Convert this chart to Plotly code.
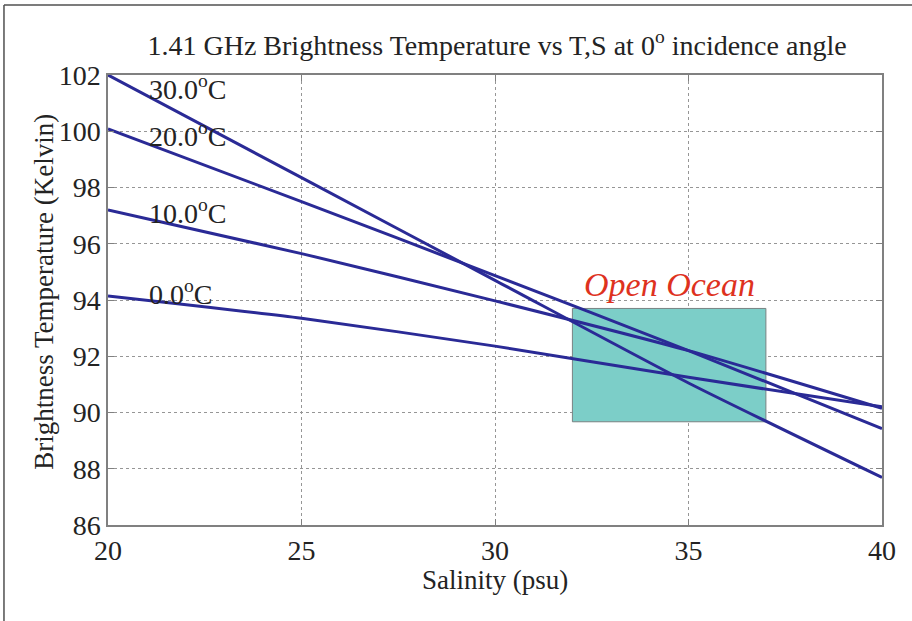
import plotly.graph_objects as go

salinity = [20, 25, 30, 35, 40]
tb_30 = [102.0, 98.35, 94.70, 91.05, 87.69]
tb_20 = [100.08, 97.5, 94.87, 92.2, 89.43]
tb_10 = [97.2, 95.65, 93.97, 92.2, 90.15]
tb_0 = [94.14, 93.35, 92.36, 91.25, 90.2]
series = [("30.0", tb_30), ("20.0", tb_20), ("10.0", tb_10), ("0.0", tb_0)]

label_x = [21.0, 21.0, 21.0, 21.0]
label_y = [101.57, 99.9, 97.13, 94.25]

box_s = [32.0, 37.0]
box_t = [89.67, 93.7]

xticks = [20, 25, 30, 35, 40]
yticks = [86, 88, 90, 92, 94, 96, 98, 100, 102]

FONT = "Liberation Serif"
LINE = "rgb(42,42,150)"
TXT = "rgb(35,35,35)"
FS = 28

fig = go.Figure()

# open-ocean box
fig.add_trace(go.Scatter(
    x=[box_s[0], box_s[1], box_s[1], box_s[0], box_s[0]],
    y=[box_t[0], box_t[0], box_t[1], box_t[1], box_t[0]],
    mode="lines", fill="toself", fillcolor="rgb(124,206,200)",
    line=dict(color="rgb(120,130,130)", width=1), hoverinfo="skip", showlegend=False))

for name, vals in series:
    fig.add_trace(go.Scatter(x=salinity, y=vals, mode="lines", name=name + " C",
                             line=dict(color=LINE, width=3, shape="spline", smoothing=0.6),
                             showlegend=False))

for (name, _), lx, ly in zip(series, label_x, label_y):
    fig.add_annotation(x=lx, y=ly, xref="x", yref="y", xanchor="left", yanchor="middle",
                       text=name + "<sup>o</sup>C", showarrow=False,
                       font=dict(family=FONT, size=FS, color=TXT))

fig.add_annotation(x=34.52, y=94.55, xref="x", yref="y", text="<i>Open Ocean</i>",
                   showarrow=False, font=dict(family=FONT, size=34, color="rgb(222,50,30)"))

# axis titles
fig.add_annotation(x=-0.0828, y=0.518, xref="paper", yref="paper", xanchor="center", yanchor="middle",
                   text="Brightness Temperature (Kelvin)", textangle=-90, showarrow=False,
                   font=dict(family=FONT, size=27, color=TXT))
fig.add_annotation(x=0.5, y=-0.122, xref="paper", yref="paper", xanchor="center", yanchor="middle",
                   text="Salinity (psu)", showarrow=False,
                   font=dict(family=FONT, size=27, color=TXT))

# outer frame (left and top edges)
fig.add_shape(type="line", xref="paper", yref="paper", x0=-0.1344, x1=-0.1344, y0=1.1556, y1=-0.22,
              line=dict(color="rgb(80,80,80)", width=1.5))
fig.add_shape(type="line", xref="paper", yref="paper", x0=-0.1344, x1=1.05, y0=1.1556, y1=1.1556,
              line=dict(color="rgb(80,80,80)", width=1.5))

axis_common = dict(showline=True, linecolor="rgb(128,128,128)", linewidth=1.5, mirror="ticks",
                   ticks="inside", ticklen=6, tickcolor="rgb(128,128,128)",
                   showgrid=True, gridcolor="rgb(150,150,150)", griddash="dot", gridwidth=1,
                   zeroline=False, tickfont=dict(family=FONT, size=FS, color=TXT))

fig.update_xaxes(range=[20, 40], tickvals=xticks, ticktext=[str(v) for v in xticks], **axis_common)
fig.update_yaxes(range=[86, 102], tickvals=yticks, ticktext=[str(v) for v in yticks], **axis_common)

fig.update_layout(
    width=912, height=621,
    margin=dict(l=108, r=30, t=75, b=96),
    paper_bgcolor="white", plot_bgcolor="white",
    title=dict(text="1.41 GHz Brightness Temperature vs T,S at 0<sup>o</sup> incidence angle",
               x=0.545, xanchor="center", y=0.928, yanchor="middle",
               font=dict(family=FONT, size=FS, color=TXT)),
)

fig.write_html("out.html")
